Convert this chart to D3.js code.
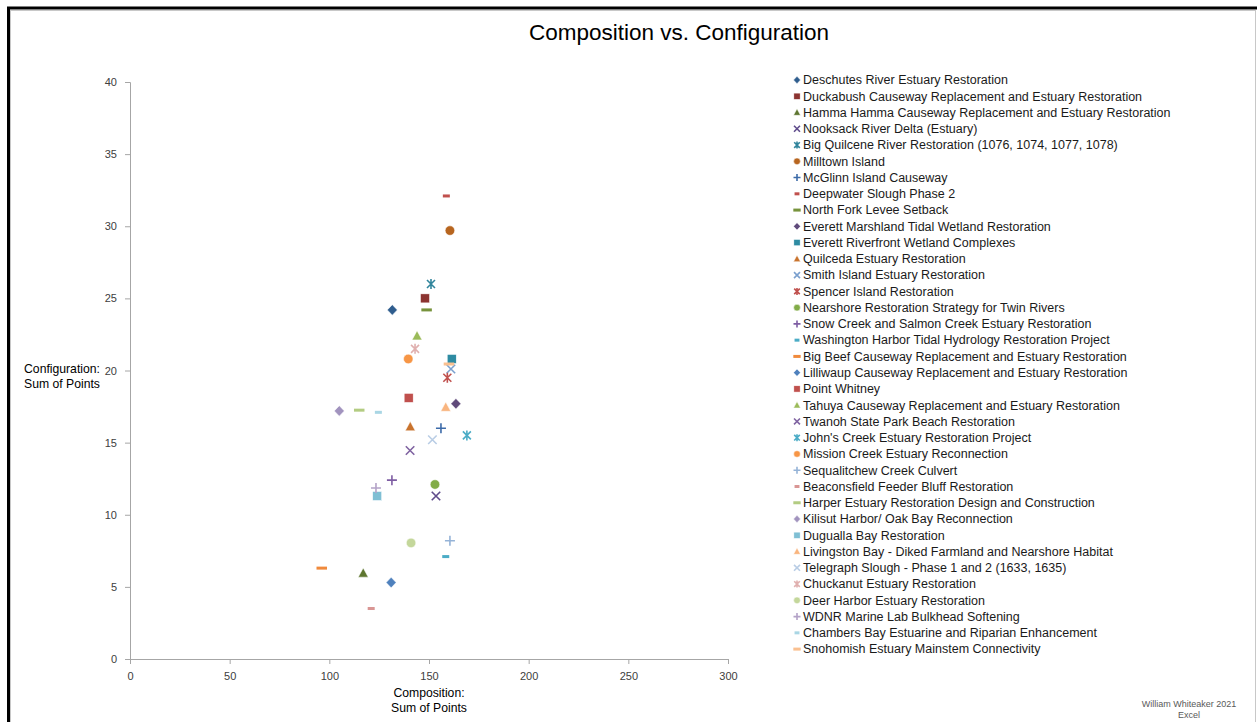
<!DOCTYPE html>
<html>
<head>
<meta charset="utf-8">
<script src="https://cdn.jsdelivr.net/npm/d3@7"></script>
<style>
  html, body { margin: 0; padding: 0; background: #fff; }
  svg { display: block; font-family: "Liberation Sans", Arial, sans-serif; }
</style>
</head>
<body>
<svg id="chart" width="1257" height="722"></svg>
<script>
// Restoration projects scored on two axes
const projects = [
  "Deschutes River Estuary Restoration",
  "Duckabush Causeway Replacement and Estuary Restoration",
  "Hamma Hamma Causeway Replacement and Estuary Restoration",
  "Nooksack River Delta (Estuary)",
  "Big Quilcene River Restoration (1076, 1074, 1077, 1078)",
  "Milltown Island",
  "McGlinn Island Causeway",
  "Deepwater Slough Phase 2",
  "North Fork Levee Setback",
  "Everett Marshland Tidal Wetland Restoration",
  "Everett Riverfront Wetland Complexes",
  "Quilceda Estuary Restoration",
  "Smith Island Estuary Restoration",
  "Spencer Island Restoration",
  "Nearshore Restoration Strategy for Twin Rivers",
  "Snow Creek and Salmon Creek Estuary Restoration",
  "Washington Harbor Tidal Hydrology Restoration Project",
  "Big Beef Causeway Replacement and Estuary Restoration",
  "Lilliwaup Causeway Replacement and Estuary Restoration",
  "Point Whitney",
  "Tahuya Causeway Replacement and Estuary Restoration",
  "Twanoh State Park Beach Restoration",
  "John's Creek Estuary Restoration Project",
  "Mission Creek Estuary Reconnection",
  "Sequalitchew Creek Culvert",
  "Beaconsfield Feeder Bluff Restoration",
  "Harper Estuary Restoration Design and Construction",
  "Kilisut Harbor/ Oak Bay Reconnection",
  "Dugualla Bay Restoration",
  "Livingston Bay - Diked Farmland and Nearshore Habitat",
  "Telegraph Slough - Phase 1 and 2 (1633, 1635)",
  "Chuckanut Estuary Restoration",
  "Deer Harbor Estuary Restoration",
  "WDNR Marine Lab Bulkhead Softening",
  "Chambers Bay Estuarine and Riparian Enhancement",
  "Snohomish Estuary Mainstem Connectivity"
];

// Composition: sum of points (x)
const composition = [
  131.6, 148.0, 117.0, 153.5, 151.0, 160.5, 156.0, 158.7, 148.8,
  163.5, 161.4, 140.6, 161.0, 159.2, 153.0, 131.4, 158.4, 96.2,
  131.0, 139.8, 144.0, 140.5, 169.0, 139.6, 160.5, 121.0, 115.0,
  105.0, 124.0, 158.4, 151.7, 143.0, 141.0, 123.4, 124.6, 160.0
];

// Configuration: sum of points (y)
const configuration = [
  24.2, 25.0, 5.95, 11.3, 26.0, 29.7, 16.0, 32.1, 24.2,
  17.7, 20.8, 16.1, 20.1, 19.5, 12.1, 12.4, 7.1, 6.3,
  5.3, 18.1, 22.4, 14.45, 15.5, 20.8, 8.2, 3.5, 17.25,
  17.2, 11.3, 17.45, 15.2, 21.5, 8.05, 11.85, 17.1, 20.45
];

const xTicks = [0, 50, 100, 150, 200, 250, 300];
const yTicks = [0, 5, 10, 15, 20, 25, 30, 35, 40];

// Marker shapes cycle through nine kinds
const shapeCycle = ["diamond", "square", "triangle", "x", "asterisk", "circle", "plus", "shortdash", "longdash"];

const colors = [
  "#2f5d8e", "#8c3431", "#5e7630", "#5f4b8b", "#31859c", "#b7651f",
  "#3d6ba9", "#c0504d", "#77933c", "#604a7b", "#2e8ba2", "#c9732d",
  "#7ba0ce", "#c0504d", "#82ac48", "#7e5da3", "#4bacc6", "#f08a3c",
  "#4f81bd", "#c0504d", "#9bbb59", "#8064a2", "#4bacc6", "#f79646",
  "#95b3d7", "#d99694", "#b3cc82", "#a193be", "#7fbfd4", "#f9b57f",
  "#b9cde5", "#e0b0af", "#c4d79b", "#b3a2c7", "#a9d6e4", "#fac090"
];

const svg = d3.select("#chart");

// Frame
svg.append("rect").attr("x", 8.5).attr("y", 8).attr("width", 1400).attr("height", 900)
  .attr("fill", "none").attr("stroke", "#000").attr("stroke-width", 3);
svg.append("rect").attr("x", 10.5).attr("y", 10.5).attr("width", 1245).attr("height", 900)
  .attr("fill", "none").attr("stroke", "#c8c8c8").attr("stroke-width", 1);

// Title
svg.append("text").attr("x", 679).attr("y", 40).attr("text-anchor", "middle")
  .attr("font-size", 22.5).attr("fill", "#000").text("Composition vs. Configuration");

const x = d3.scaleLinear().domain([0, 300]).range([130, 728]);
const y = d3.scaleLinear().domain([0, 40]).range([659, 82]);

const axisColor = "#a6a6a6";
const gx = svg.append("g").attr("transform", `translate(0,${y(0)})`)
  .call(d3.axisBottom(x).tickValues(xTicks).tickSize(5).tickPadding(8).tickFormat(d3.format("d")));
const gy = svg.append("g").attr("transform", `translate(${x(0)},0)`)
  .call(d3.axisLeft(y).tickValues(yTicks).tickSize(5).tickPadding(8).tickFormat(d3.format("d")));
[gx, gy].forEach(g => {
  g.select(".domain").attr("stroke", axisColor);
  g.selectAll(".tick line").attr("stroke", axisColor);
  g.selectAll(".tick text").attr("fill", "#404040").attr("font-size", 11)
    .attr("font-family", "Liberation Sans, Arial, sans-serif");
});

// Axis titles
const yTitle = svg.append("text").attr("text-anchor", "middle").attr("font-size", 12.2).attr("fill", "#000");
yTitle.append("tspan").attr("x", 62).attr("y", 373).text("Configuration:");
yTitle.append("tspan").attr("x", 62).attr("y", 388).text("Sum of Points");
const xTitle = svg.append("text").attr("text-anchor", "middle").attr("font-size", 12.2).attr("fill", "#000");
xTitle.append("tspan").attr("x", 429).attr("y", 697).text("Composition:");
xTitle.append("tspan").attr("x", 429).attr("y", 712).text("Sum of Points");

// Draw a marker of the given kind centred at (cx, cy) with size s
function drawMarker(g, kind, cx, cy, s, color) {
  const h = s / 2;
  switch (kind) {
    case "diamond":
      g.append("path").attr("d", `M${cx},${cy - h * 1.05}L${cx + h},${cy}L${cx},${cy + h * 1.05}L${cx - h},${cy}Z`)
        .attr("fill", color).attr("stroke", "#fff").attr("stroke-width", 0.5);
      break;
    case "square":
      g.append("rect").attr("x", cx - h * 0.9).attr("y", cy - h * 0.9).attr("width", h * 1.8).attr("height", h * 1.8)
        .attr("fill", color).attr("stroke", "#fff").attr("stroke-width", 0.5);
      break;
    case "triangle":
      g.append("path").attr("d", `M${cx},${cy - h * 1.05}L${cx + h},${cy + h * 0.8}L${cx - h},${cy + h * 0.8}Z`)
        .attr("fill", color).attr("stroke", "#fff").attr("stroke-width", 0.5);
      break;
    case "circle":
      g.append("circle").attr("cx", cx).attr("cy", cy).attr("r", h * 0.95)
        .attr("fill", color).attr("stroke", "#fff").attr("stroke-width", 0.5);
      break;
    case "x":
      g.append("path").attr("d", `M${cx - h * 0.85},${cy - h * 0.85}L${cx + h * 0.85},${cy + h * 0.85}M${cx - h * 0.85},${cy + h * 0.85}L${cx + h * 0.85},${cy - h * 0.85}`)
        .attr("stroke", color).attr("stroke-width", 1.6).attr("fill", "none");
      break;
    case "asterisk":
      g.append("path").attr("d", `M${cx - h * 0.8},${cy - h * 0.8}L${cx + h * 0.8},${cy + h * 0.8}M${cx - h * 0.8},${cy + h * 0.8}L${cx + h * 0.8},${cy - h * 0.8}M${cx},${cy - h}L${cx},${cy + h}`)
        .attr("stroke", color).attr("stroke-width", 1.6).attr("fill", "none");
      break;
    case "plus":
      g.append("path").attr("d", `M${cx - h},${cy}L${cx + h},${cy}M${cx},${cy - h}L${cx},${cy + h}`)
        .attr("stroke", color).attr("stroke-width", 1.6).attr("fill", "none");
      break;
    case "shortdash":
      g.append("rect").attr("x", cx - h * 0.7).attr("y", cy - 1.5).attr("width", h * 1.4).attr("height", 3)
        .attr("fill", color);
      break;
    case "longdash":
      g.append("rect").attr("x", cx - h * 1.05).attr("y", cy - 1.5).attr("width", h * 2.1).attr("height", 3)
        .attr("fill", color);
      break;
  }
}

// Points
const pts = svg.append("g");
projects.forEach((name, i) => {
  drawMarker(pts, shapeCycle[i % shapeCycle.length], x(composition[i]), y(configuration[i]), 10, colors[i]);
});

// Legend
const legend = svg.append("g");
const legendTop = 80, legendStep = 16.26;
projects.forEach((name, i) => {
  const ly = legendTop + i * legendStep;
  drawMarker(legend, shapeCycle[i % shapeCycle.length], 797, ly, 7, colors[i]);
  legend.append("text").attr("x", 803).attr("y", ly + 4.3).attr("font-size", 12.5)
    .attr("fill", "#1a1a1a").text(name);
});

// Credit
const credit = svg.append("text").attr("text-anchor", "middle").attr("font-size", 9).attr("fill", "#595959");
credit.append("tspan").attr("x", 1189).attr("y", 707).text("William Whiteaker 2021");
credit.append("tspan").attr("x", 1189).attr("y", 718).text("Excel");
</script>
</body>
</html>
